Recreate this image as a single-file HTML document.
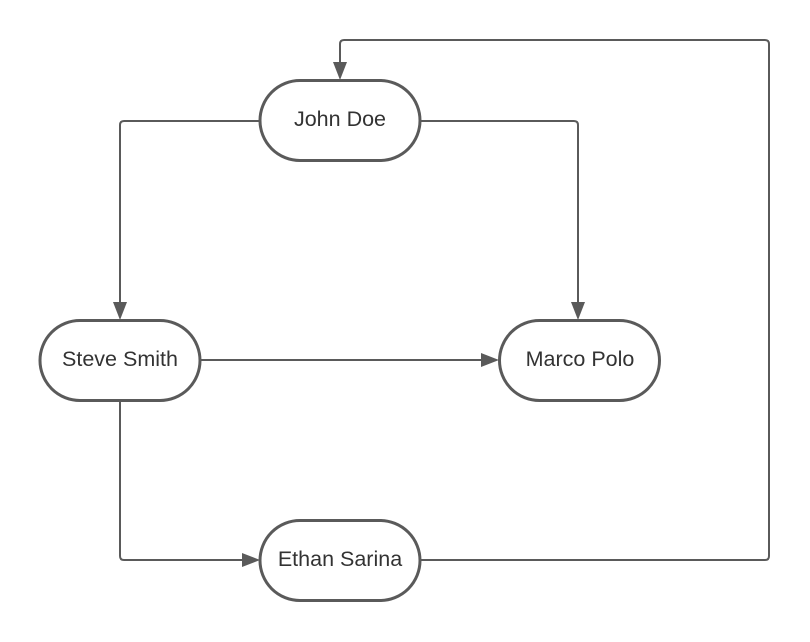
<!DOCTYPE html>
<html><head><meta charset="utf-8"><style>
html,body{margin:0;padding:0;background:#fff;}
svg{display:block;}
text{font-family:"Liberation Sans",sans-serif;font-size:21.5px;fill:#333;}
</style></head><body>
<svg width="810" height="642" viewBox="0 0 810 642" xmlns="http://www.w3.org/2000/svg">
<g fill="none" stroke="#5a5a5a" stroke-width="2" stroke-linejoin="round">
<path d="M260 121 H124 Q120 121 120 125 V304"/>
<path d="M420 121 H574 Q578 121 578 125 V304"/>
<path d="M201 360 H483"/>
<path d="M120 401 V556 Q120 560 124 560 H244"/>
<path d="M420 560 H765 Q769 560 769 556 V44 Q769 40 765 40 H344 Q340 40 340 44 V64"/>
</g>
<g fill="#5a5a5a">
<polygon points="113,302 127,302 120,320"/>
<polygon points="571,302 585,302 578,320"/>
<polygon points="481,353 481,367 499,360"/>
<polygon points="242,553 242,567 260,560"/>
<polygon points="333,62 347,62 340,80"/>
</g>
<g fill="#fff" stroke="#5a5a5a" stroke-width="3">
<rect x="260" y="80.5" width="160" height="80" rx="40"/>
<rect x="40" y="320.5" width="160" height="80" rx="40"/>
<rect x="499.5" y="320.5" width="160" height="80" rx="40"/>
<rect x="260" y="520.5" width="160" height="80" rx="40"/>
</g>
<g text-anchor="middle">
<text x="340" y="126">John Doe</text>
<text x="120" y="366">Steve Smith</text>
<text x="580" y="366">Marco Polo</text>
<text x="340" y="566">Ethan Sarina</text>
</g>
</svg>
</body></html>
